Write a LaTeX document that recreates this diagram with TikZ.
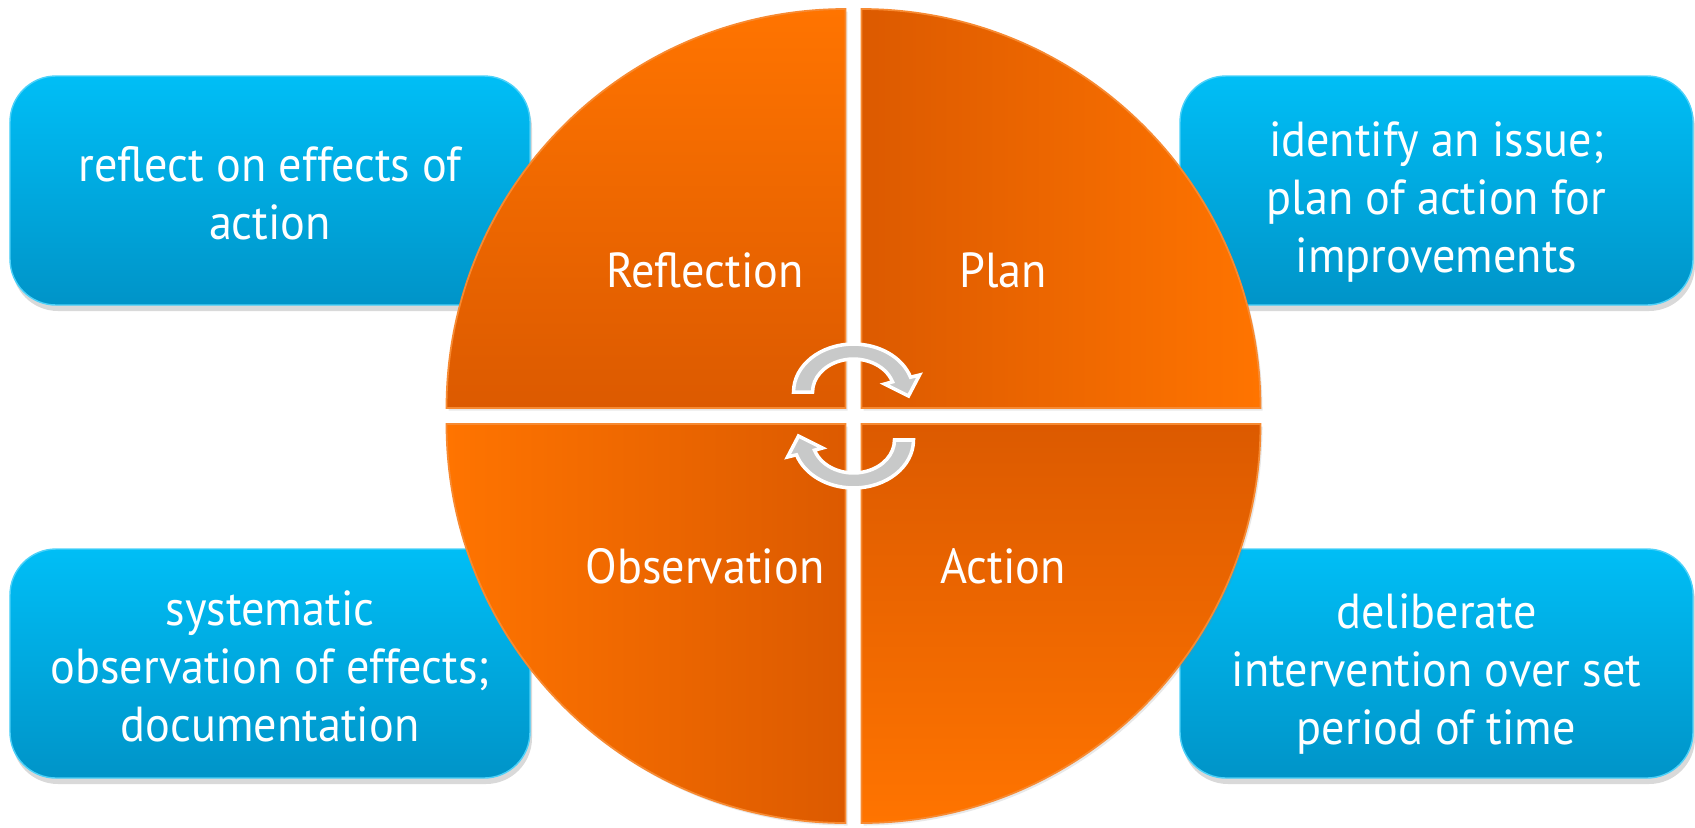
\documentclass[tikz,border=0pt]{standalone}
\usepackage{fontspec}
\setmainfont[FakeStretch=0.94]{PT Sans}
\usetikzlibrary{shadows}
\definecolor{orL}{RGB}{255,116,0}
\definecolor{orD}{RGB}{220,90,0}
\definecolor{orE}{RGB}{247,138,50}
\definecolor{skyT}{RGB}{0,190,246}
\definecolor{skyB}{RGB}{0,148,200}
\definecolor{turnG}{RGB}{200,201,201}

\begin{document}
\begin{tikzpicture}[font=\fontsize{14}{16.5}\selectfont,
    note/.style={rounded corners=0.46cm, minimum height=2.29cm, inner sep=0pt,
      top color=skyT, bottom color=skyB, draw=skyT!70!white, line width=0.4pt,
      drop shadow={shadow xshift=0.02cm, shadow yshift=-0.06cm, opacity=0.3}},
    txt/.style={align=center, text=white, inner sep=0pt},
    qtr/.style={draw=orE, line width=0.5pt,
      drop shadow={shadow xshift=0.02cm, shadow yshift=-0.025cm, opacity=0.18}},
    lbl/.style={text=white, inner sep=0pt},
    turn/.style={fill=turnG, draw=white, line width=1pt, line join=miter}]
  \useasboundingbox (0,0) rectangle (16.95,8.27);
  \node[note, minimum width=5.2cm] (refl) at (2.70,6.365) {};
  \node[note, minimum width=5.2cm] (obs) at (2.70,1.635) {};
  \node[note, minimum width=5.13cm] (plan) at (14.365,6.365) {};
  \node[note, minimum width=5.13cm] (act) at (14.365,1.635) {};
  \node[txt] (refl-t) at ([yshift=-0.03cm]refl.center) {reflect on effects of\\action};
  \node[txt] (obs-t) at ([yshift=-0.03cm]obs.center) {systematic\\observation of effects;\\documentation};
  \node[txt] (plan-t) at ([yshift=-0.11cm]plan.center) {identify an issue;\\plan of action for\\improvements};
  \node[txt] (act-t) at ([yshift=-0.10cm]act.center) {deliberate\\intervention over set\\period of time};
  \path[qtr, top color=orL, bottom color=orD] (8.455,4.19) -- (4.465,4.19) arc[start angle=180, end angle=90, radius=3.99] -- cycle;
  \path[qtr, left color=orD, right color=orL] (8.615,4.19) -- (8.615,8.18) arc[start angle=90, end angle=0, radius=3.99] -- cycle;
  \path[qtr, top color=orD, bottom color=orL] (8.615,4.03) -- (12.605,4.03) arc[start angle=0, end angle=-90, radius=3.99] -- cycle;
  \path[qtr, left color=orL, right color=orD] (8.455,4.03) -- (8.455,0.04) arc[start angle=270, end angle=180, radius=3.99] -- cycle;
  \node[lbl] (refl-q) at (7.05,5.57) {Reflection};
  \node[lbl] (plan-q) at (10.03,5.57) {Plan};
  \node[lbl] (obs-q) at (7.05,2.61) {Observation};
  \node[lbl] (act-q) at (10.03,2.61) {Action};
  \begin{scope}[shift={(8.535,4.11)}, x=0.01cm, y=0.01cm]
    \foreach \r in {0,180}
      \filldraw[turn, rotate=\r] (-60,24) arc[start angle=180, end angle=18, x radius=60, y radius=48]
        -- (66,41) -- (55,20) -- (31,32) -- (39,34.2)
        arc[start angle=18, end angle=180, x radius=41, y radius=33] -- cycle;
  \end{scope}
\end{tikzpicture}
\end{document}
